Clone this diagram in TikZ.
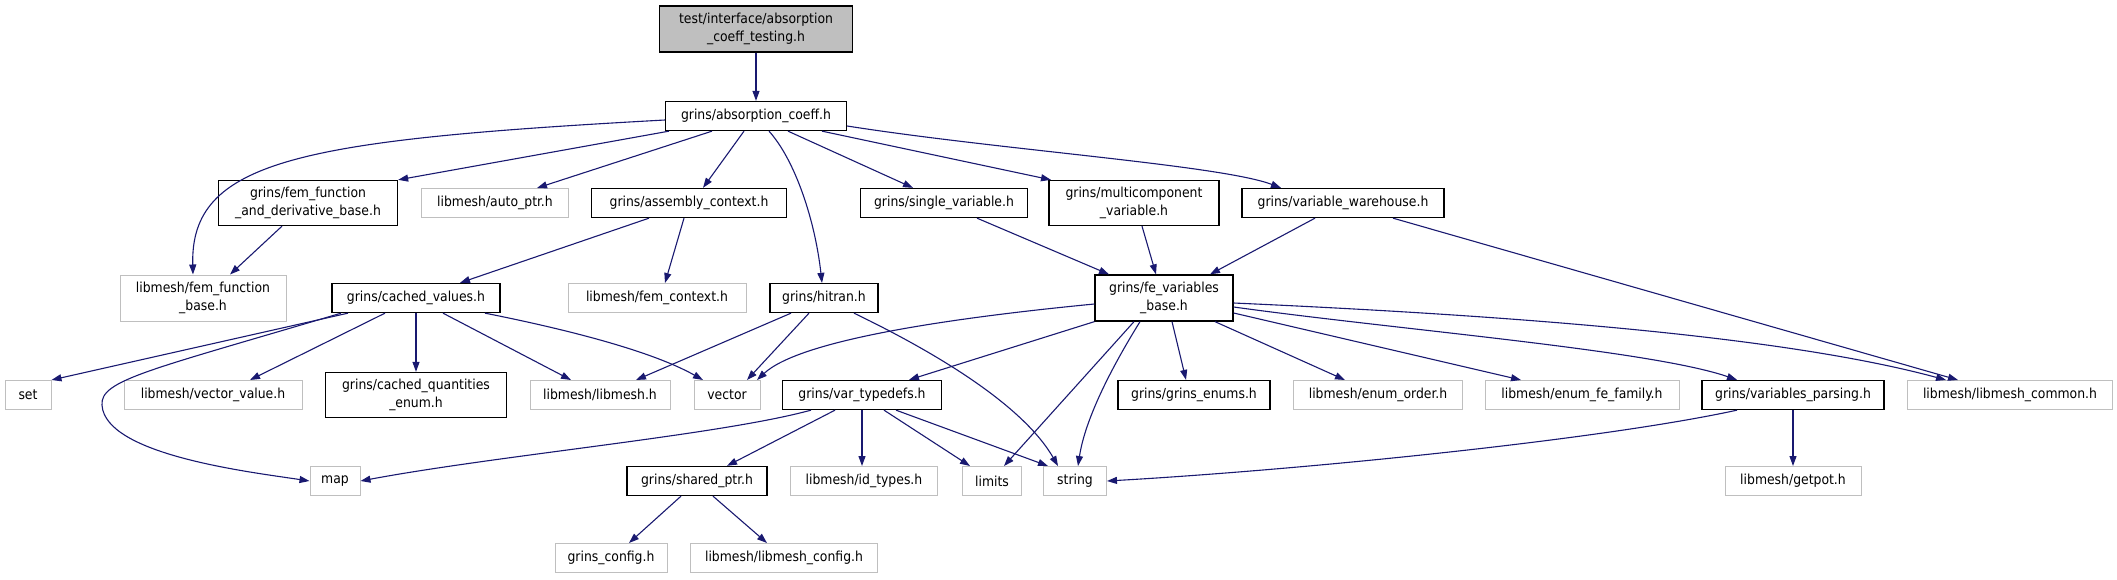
\documentclass[tikz,border=0pt]{standalone}
\usepackage{fontspec}
\setmainfont{DejaVu Sans Condensed}
\usepackage{tikz}
\usetikzlibrary{arrows.meta, positioning, calc}
\definecolor{EdgeBlue}{RGB}{25,25,112}
\definecolor{ExtGray}{RGB}{191,191,191}
\definecolor{RootGray}{RGB}{191,191,191}
\tikzset{
  hfile/.style={
    rectangle, inner sep=0pt, align=center,
    minimum height=29pt,
    font=\fontsize{13.8}{17.5}\selectfont, text=black
  },
  grinsfile/.style={hfile, draw=black, line width=1.3pt},
  extfile/.style={hfile, draw=ExtGray, line width=1pt},
  rootfile/.style={hfile, draw=black, line width=1.3pt, fill=RootGray},
  dep/.style={-{Triangle[length=10pt,width=7pt]}, draw=EdgeBlue, line width=1.1pt}
}
\begin{document}
\begin{tikzpicture}[x=1pt, y=-1pt]
  \useasboundingbox (0,0) rectangle (2117,579);

  % Row 0 and 1
  \node[rootfile, minimum width=193pt, minimum height=46pt] (root) at (756,29)
       {test/interface/absorption\\\_coeff\_testing.h};
  \node[grinsfile, minimum width=181pt] (abs) at (756,116) {grins/absorption\_coeff.h};

  % Row 2
  \node[grinsfile, minimum width=179pt, minimum height=45pt] (femd) at (308,203)
       {grins/fem\_function\\\_and\_derivative\_base.h};
  \node[extfile, minimum width=147pt] (autoptr) at (495,203) {libmesh/auto\_ptr.h};
  \node[grinsfile, minimum width=195pt] (asmctx) at (689,203) {grins/assembly\_context.h};
  \node[grinsfile, minimum width=167pt] (single) at (944,203) {grins/single\_variable.h};
  \node[grinsfile, minimum width=170pt, minimum height=45pt] (multi) at (1134,203)
       {grins/multicomponent\\\_variable.h};
  \node[grinsfile, minimum width=202pt] (whouse) at (1343,203) {grins/variable\_warehouse.h};

  % Row 3
  \node[extfile, minimum width=166pt, minimum height=46pt] (ffb) at (203,298)
       {libmesh/fem\_function\\\_base.h};
  \node[grinsfile, minimum width=168pt] (cached) at (416,298) {grins/cached\_values.h};
  \node[extfile, minimum width=178pt] (femctx) at (657,298) {libmesh/fem\_context.h};
  \node[grinsfile, minimum width=108pt] (hitran) at (824,298) {grins/hitran.h};
  \node[grinsfile, minimum width=138pt, minimum height=46pt] (fevb) at (1164,298)
       {grins/fe\_variables\\\_base.h};

  % Row 4
  \node[extfile, minimum width=46pt] (set) at (28,395) {set};
  \node[extfile, minimum width=178pt] (vecval) at (213,395) {libmesh/vector\_value.h};
  \node[grinsfile, minimum width=181pt, minimum height=45pt] (cqe) at (416,395)
       {grins/cached\_quantities\\\_enum.h};
  \node[extfile, minimum width=140pt] (libmesh) at (600,395) {libmesh/libmesh.h};
  \node[extfile, minimum width=66pt] (vector) at (727,395) {vector};
  \node[grinsfile, minimum width=159pt] (vartd) at (862,395) {grins/var\_typedefs.h};
  \node[grinsfile, minimum width=152pt] (grenums) at (1194,395) {grins/grins\_enums.h};
  \node[extfile, minimum width=169pt] (enumord) at (1378,395) {libmesh/enum\_order.h};
  \node[extfile, minimum width=194pt] (enumfe) at (1582,395) {libmesh/enum\_fe\_family.h};
  \node[grinsfile, minimum width=182pt] (varpars) at (1793,395) {grins/variables\_parsing.h};
  \node[extfile, minimum width=205pt] (lmcommon) at (2010,395) {libmesh/libmesh\_common.h};

  % Row 5
  \node[extfile, minimum width=50pt] (map) at (335,481) {map};
  \node[grinsfile, minimum width=140pt] (sharedptr) at (697,481) {grins/shared\_ptr.h};
  \node[extfile, minimum width=147pt] (idtypes) at (864,481) {libmesh/id\_types.h};
  \node[extfile, minimum width=59pt] (limits) at (992,481) {limits};
  \node[extfile, minimum width=63pt] (string) at (1075,481) {string};
  \node[extfile, minimum width=136pt] (getpot) at (1793,481) {libmesh/getpot.h};

  % Row 6
  \node[extfile, minimum width=112pt] (grcfg) at (611,558) {grins\_config.h};
  \node[extfile, minimum width=187pt] (lmcfg) at (784,558) {libmesh/libmesh\_config.h};

  % Includes of the top files
  \draw[dep] (root.south) -- (abs.north);
  \draw[dep] ([yshift=-4pt]abs.west) .. controls (300,140) and (190,160) .. ([xshift=-10pt]ffb.north);
  \draw[dep] ([xshift=-87pt]abs.south) -- (femd.north east);
  \draw[dep] ([xshift=-44pt]abs.south) -- ([xshift=42pt]autoptr.north);
  \draw[dep] ([xshift=-12pt]abs.south) -- ([xshift=14pt]asmctx.north);
  \draw[dep] ([xshift=13pt]abs.south) .. controls (795,160) and (815,220) .. ([xshift=-2pt]hitran.north);
  \draw[dep] ([xshift=32pt]abs.south) -- ([xshift=-31pt]single.north);
  \draw[dep] ([xshift=66pt]abs.south) -- ([xshift=-83pt]multi.north);
  \draw[dep] ([yshift=-10pt]abs.east) .. controls (1000,150) and (1220,165) .. ([xshift=-62pt]whouse.north);

  % Second level
  \draw[dep] ([xshift=-26pt]femd.south) -- ([xshift=27pt]ffb.north);
  \draw[dep] ([xshift=-40pt]asmctx.south) -- ([xshift=44pt]cached.north);
  \draw[dep] ([xshift=-5pt]asmctx.south) -- ([xshift=8pt]femctx.north);
  \draw[dep] ([xshift=33pt]single.south) -- ([xshift=-55pt]fevb.north);
  \draw[dep] ([xshift=8pt]multi.south) -- ([xshift=-8pt]fevb.north);
  \draw[dep] ([xshift=-28pt]whouse.south) -- ([xshift=46pt]fevb.north);
  \draw[dep] ([xshift=50pt]whouse.south) -- ([xshift=-52pt]lmcommon.north);

  % cached_values and hitran
  \draw[dep] ([xshift=-68pt]cached.south) -- (set.north east);
  \draw[dep] ([xshift=-75pt]cached.south) .. controls (150,370) and (100,380) .. (102,405)
             .. controls (105,455) and (250,472) .. (map.west);
  \draw[dep] ([xshift=-31pt]cached.south) -- ([xshift=37pt]vecval.north);
  \draw[dep] (cached.south) -- (cqe.north);
  \draw[dep] ([xshift=27pt]cached.south) -- ([xshift=-29pt]libmesh.north);
  \draw[dep] ([xshift=69pt]cached.south) .. controls (560,328) and (650,350) .. ([xshift=-24pt]vector.north);
  \draw[dep] ([xshift=-33pt]hitran.south) -- ([xshift=36pt]libmesh.north);
  \draw[dep] ([xshift=-15pt]hitran.south) -- ([xshift=20pt]vector.north);
  \draw[dep] ([xshift=30pt]hitran.south) .. controls (920,345) and (1020,400) .. ([xshift=-17pt]string.north);

  % fe_variables_base
  \draw[dep] ([yshift=-6pt]fevb.west) .. controls (950,318) and (800,340) .. ([xshift=30pt]vector.north);
  \draw[dep] (fevb.south west) -- ([xshift=47pt]vartd.north);
  \draw[dep] ([xshift=-30pt]fevb.south) -- ([xshift=12pt]limits.north);
  \draw[dep] ([xshift=-24pt]fevb.south) .. controls (1110,370) and (1085,420) .. ([xshift=3pt]string.north);
  \draw[dep] ([xshift=8pt]fevb.south) -- ([xshift=-8pt]grenums.north);
  \draw[dep] ([xshift=51pt]fevb.south) -- ([xshift=-33pt]enumord.north);
  \draw[dep] ([yshift=-15pt]fevb.east) -- ([xshift=-61pt]enumfe.north);
  \draw[dep] ([yshift=-9pt]fevb.east) .. controls (1400,330) and (1650,350) .. ([xshift=-56pt]varpars.north);
  \draw[dep] ([yshift=-5pt]fevb.east) .. controls (1500,315) and (1780,335) .. ([xshift=-64pt]lmcommon.north);

  % var_typedefs, variables_parsing, shared_ptr
  \draw[dep] ([xshift=-51pt]vartd.south) .. controls (720,435) and (500,455) .. (map.east);
  \draw[dep] ([xshift=-27pt]vartd.south) -- ([xshift=30pt]sharedptr.north);
  \draw[dep] (vartd.south) -- (vartd.south |- idtypes.north);
  \draw[dep] ([xshift=22pt]vartd.south) -- ([xshift=-22pt]limits.north);
  \draw[dep] ([xshift=34pt]vartd.south) -- ([xshift=-27pt]string.north);
  \draw[dep] ([xshift=-56pt]varpars.south) .. controls (1600,440) and (1300,470) .. (string.east);
  \draw[dep] (varpars.south) -- (getpot.north);
  \draw[dep] ([xshift=-16pt]sharedptr.south) -- ([xshift=18pt]grcfg.north);
  \draw[dep] ([xshift=16pt]sharedptr.south) -- ([xshift=-17pt]lmcfg.north);
\end{tikzpicture}
\end{document}
